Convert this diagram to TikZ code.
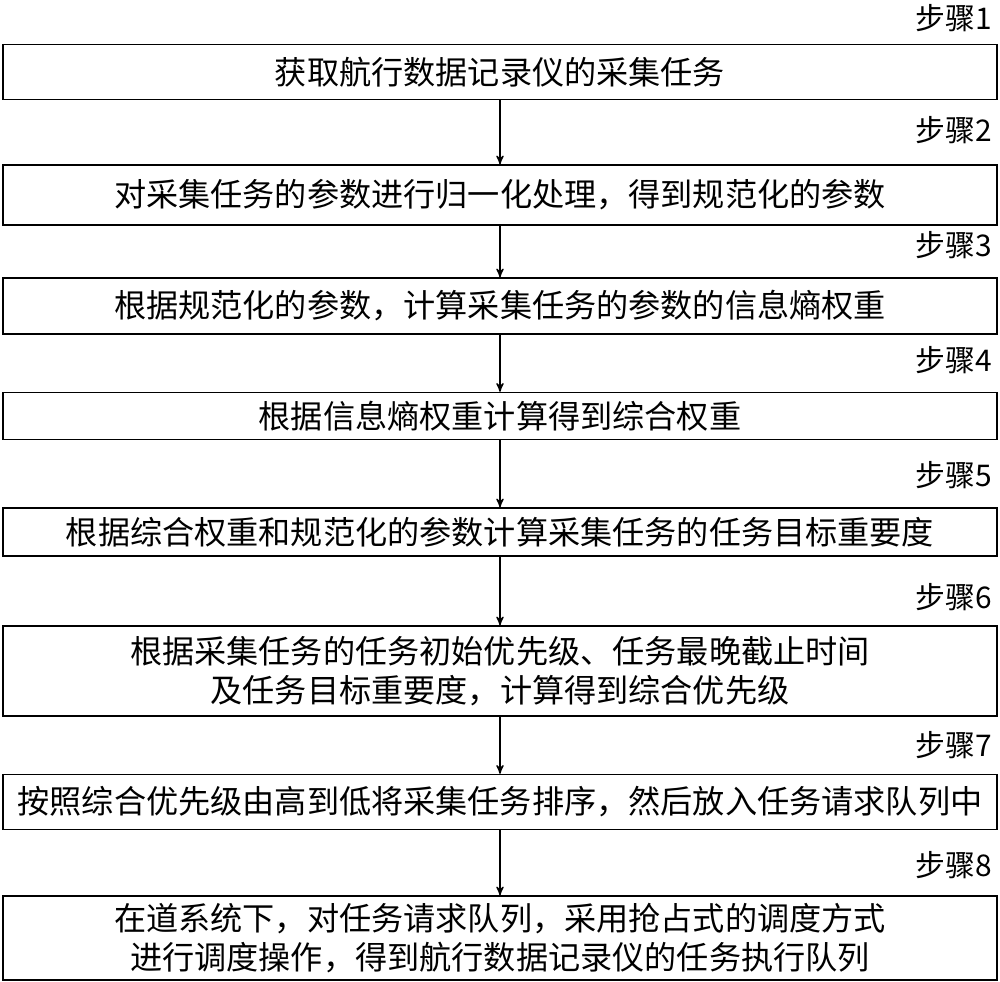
\documentclass[tikz,border=0pt]{standalone}
\usepackage{fontspec}
\newfontfamily\cjk{Noto Sans CJK SC}
\usetikzlibrary{positioning}
\usetikzlibrary{arrows}
\tikzset{>=stealth'}
\tikzset{stepbox/.style={draw, thick, minimum width=19.88cm, inner sep=0pt, align=center, font=\cjk\fontsize{18.3}{22.5}\selectfont}}
\tikzset{steplbl/.style={anchor=east, inner sep=0pt, font=\cjk\fontsize{17}{20}\selectfont}}

\begin{document}
\begin{tikzpicture}
\useasboundingbox (0,0) rectangle (20,-19.64);

\node[stepbox, minimum height=1.1cm] (s1) at (10, -1.44) {获取航行数据记录仪的采集任务};
\node[stepbox, minimum height=1.2cm] (s2) at (10, -3.9) {对采集任务的参数进行归一化处理，得到规范化的参数};
\node[stepbox, minimum height=1.12cm] (s3) at (10, -6.12) {根据规范化的参数，计算采集任务的参数的信息熵权重};
\node[stepbox, minimum height=0.94cm] (s4) at (10, -8.32) {根据信息熵权重计算得到综合权重};
\node[stepbox, minimum height=0.96cm] (s5) at (10, -10.64) {根据综合权重和规范化的参数计算采集任务的任务目标重要度};
\node[stepbox, minimum height=1.8cm] (s6) at (10, -13.42) {根据采集任务的任务初始优先级、任务最晚截止时间\\及任务目标重要度，计算得到综合优先级};
\node[stepbox, minimum height=1.1cm] (s7) at (10, -16.04) {按照综合优先级由高到低将采集任务排序，然后放入任务请求队列中};
\node[stepbox, minimum height=1.68cm] (s8) at (10, -18.76) {在道系统下，对任务请求队列，采用抢占式的调度方式\\进行调度操作，得到航行数据记录仪的任务执行队列};

\node[steplbl] (l1) at (19.85, -0.36) {步骤1};
\node[steplbl] (l2) at (19.85, -2.6) {步骤2};
\node[steplbl] (l3) at (19.85, -4.9) {步骤3};
\node[steplbl] (l4) at (19.85, -7.2) {步骤4};
\node[steplbl] (l5) at (19.85, -9.5) {步骤5};
\node[steplbl] (l6) at (19.85, -11.94) {步骤6};
\node[steplbl] (l7) at (19.85, -14.9) {步骤7};
\node[steplbl] (l8) at (19.85, -17.3) {步骤8};

\draw[->, thick] (s1) -- (s2);
\draw[->, thick] (s2) -- (s3);
\draw[->, thick] (s3) -- (s4);
\draw[->, thick] (s4) -- (s5);
\draw[->, thick] (s5) -- (s6);
\draw[->, thick] (s6) -- (s7);
\draw[->, thick] (s7) -- (s8);
\end{tikzpicture}
\end{document}
